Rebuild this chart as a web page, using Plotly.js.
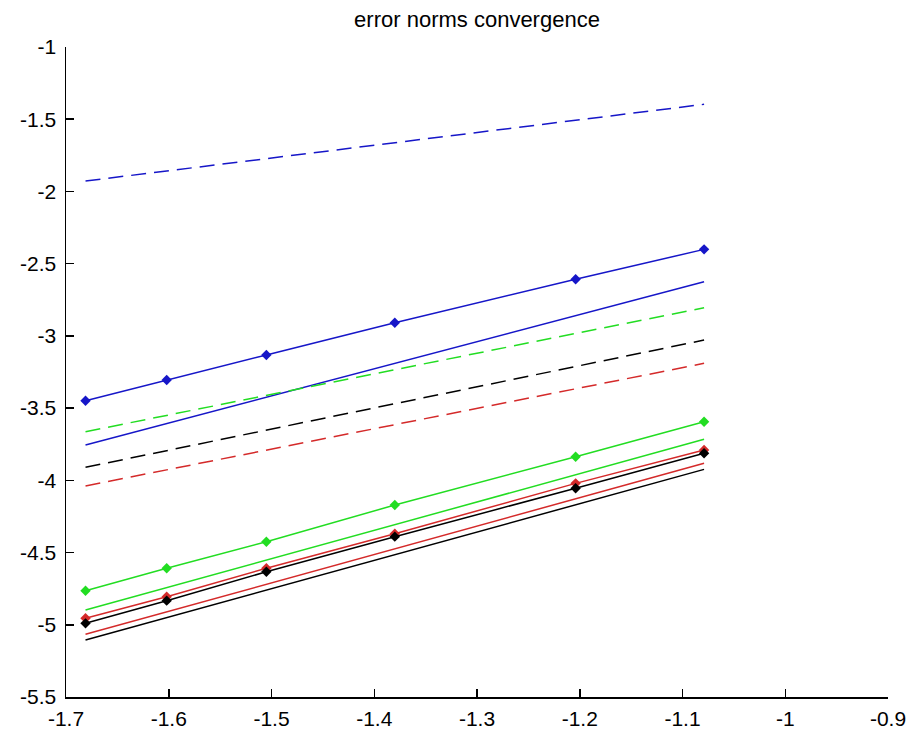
<!DOCTYPE html>
<html>
<head>
<meta charset="utf-8">
<script src="https://cdn.plot.ly/plotly-3.0.1.min.js"></script>
<style>html,body{margin:0;padding:0;background:#fff;}#chart{width:907px;height:729px;}</style>
</head>
<body>
<div id="chart"></div>
<script>
// x positions (log10 h)
const xPts = [-1.681, -1.602, -1.505, -1.380, -1.204, -1.079];
const xEnds = [-1.681, -1.079];

// series with markers
const blueMarked  = [-3.449, -3.305, -3.132, -2.909, -2.608, -2.401];
const greenMarked = [-4.764, -4.609, -4.425, -4.171, -3.837, -3.594];
const redMarked   = [-4.955, -4.806, -4.609, -4.370, -4.021, -3.790];
const blackMarked = [-4.990, -4.833, -4.633, -4.390, -4.055, -3.813];

// straight reference lines (endpoints)
const blueDashed  = [-1.928, -1.397];
const greenDashed = [-3.663, -2.805];
const blackDashed = [-3.910, -3.029];
const redDashed   = [-4.039, -3.190];
const blueSolid   = [-3.756, -2.625];
const greenSolid  = [-4.898, -3.716];
const redSolid    = [-5.066, -3.882];
const blackSolid  = [-5.106, -3.924];

const xTickVals = [-1.7, -1.6, -1.5, -1.4, -1.3, -1.2, -1.1, -1, -0.9];
const xTickText = ['-1.7', '-1.6', '-1.5', '-1.4', '-1.3', '-1.2', '-1.1', '-1', '-0.9'];
const yTickVals = [-5.5, -5, -4.5, -4, -3.5, -3, -2.5, -2, -1.5, -1];
const yTickText = ['-5.5', '-5', '-4.5', '-4', '-3.5', '-3', '-2.5', '-2', '-1.5', '-1'];

const BLUE = '#1616c8', GREEN = '#22dd22', RED = '#d42a2a', BLACK = '#000000';
const DASH = '15px,8px';
const LW = 1.5;

function line(x, y, color, dash) {
  return {x: x, y: y, type: 'scatter', mode: 'lines',
          line: {color: color, width: LW, dash: dash || 'solid'}, hoverinfo: 'skip'};
}
function marked(x, y, color) {
  return {x: x, y: y, type: 'scatter', mode: 'lines+markers',
          line: {color: color, width: LW},
          marker: {symbol: 'diamond', size: 8, color: color}, hoverinfo: 'skip'};
}

const data = [
  line(xEnds, blueDashed, BLUE, DASH),
  marked(xPts, blueMarked, BLUE),
  line(xEnds, blueSolid, BLUE),
  line(xEnds, greenDashed, GREEN, DASH),
  line(xEnds, blackDashed, BLACK, DASH),
  line(xEnds, redDashed, RED, DASH),
  marked(xPts, greenMarked, GREEN),
  line(xEnds, greenSolid, GREEN),
  marked(xPts, redMarked, RED),
  marked(xPts, blackMarked, BLACK),
  line(xEnds, redSolid, RED),
  line(xEnds, blackSolid, BLACK)
];

const FONT = 'Arial, "Liberation Sans", Helvetica, sans-serif';
const layout = {
  width: 907, height: 729,
  margin: {l: 66, r: 19, t: 47, b: 32, pad: 0},
  paper_bgcolor: '#ffffff', plot_bgcolor: '#ffffff',
  showlegend: false,
  font: {family: FONT, size: 21, color: '#000'},
  title: {text: 'error norms convergence', font: {family: FONT, size: 22, color: '#000'},
          xref: 'paper', x: 0.5, xanchor: 'center', yref: 'container', y: 0.973, yanchor: 'middle'},
  xaxis: {range: [-1.7, -0.9], tickmode: 'array', tickvals: xTickVals, ticktext: xTickText,
          showgrid: false, zeroline: false, showline: true, linecolor: '#000', linewidth: 1.5,
          ticks: 'inside', ticklen: 8, tickcolor: '#000', tickwidth: 1.5,
          tickfont: {family: FONT, size: 21, color: '#000'}, ticklabelstandoff: 2},
  yaxis: {range: [-5.5, -1], tickmode: 'array', tickvals: yTickVals, ticktext: yTickText,
          showgrid: false, zeroline: false, showline: true, linecolor: '#000', linewidth: 1.5,
          ticks: 'inside', ticklen: 8, tickcolor: '#000', tickwidth: 1.5,
          tickfont: {family: FONT, size: 21, color: '#000'}, ticklabelstandoff: 4}
};

Plotly.newPlot('chart', data, layout, {staticPlot: true, displayModeBar: false});
</script>
</body>
</html>
